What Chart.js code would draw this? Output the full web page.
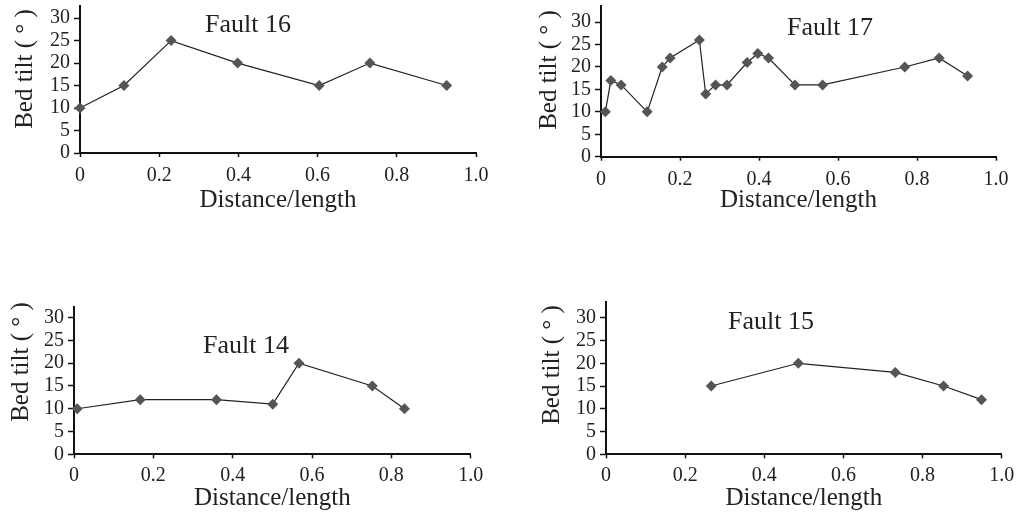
<!DOCTYPE html>
<html>
<head>
<meta charset="utf-8">
<script src="https://cdn.jsdelivr.net/npm/chart.js@4/dist/chart.umd.min.js"></script>
<style>
  body { margin: 0; background: #fff; }
  #wrap { position: relative; width: 1016px; height: 516px; }
  canvas { position: absolute; }
</style>
</head>
<body>
<div id="wrap">
  <canvas id="c16" width="508" height="258" style="left:0;top:0"></canvas>
  <canvas id="c17" width="508" height="258" style="left:508px;top:0"></canvas>
  <canvas id="c14" width="508" height="258" style="left:0;top:258px"></canvas>
  <canvas id="c15" width="508" height="258" style="left:508px;top:258px"></canvas>
</div>
<script>
// 目盛りのラベル
const xTickLabels = ["0", "0.2", "0.4", "0.6", "0.8", "1.0"];
const yTickValues = [0, 5, 10, 15, 20, 25, 30];

// 各断層のデータ (distance/length, bed tilt)
const fault16X = [0, 0.111, 0.23, 0.398, 0.604, 0.732, 0.926];
const fault16Y = [10, 15, 25, 20, 15, 20, 15];
const fault17X = [0.011, 0.025, 0.051, 0.117, 0.155, 0.175, 0.249, 0.265, 0.29, 0.319, 0.37, 0.397, 0.424, 0.491, 0.561, 0.769, 0.856, 0.928];
const fault17Y = [10, 17, 16, 10, 20, 22, 26, 14, 16, 16, 21, 23, 22, 16, 16, 20, 22, 18];
const fault14X = [0.008, 0.167, 0.359, 0.501, 0.567, 0.752, 0.833];
const fault14Y = [10, 12, 12, 11, 20, 15, 10];
const fault15X = [0.266, 0.486, 0.731, 0.853, 0.949];
const fault15Y = [15, 20, 18, 15, 12];

Chart.defaults.font.family = "'Liberation Serif', 'Times New Roman', serif";
Chart.defaults.color = "#222";

const FONT = "'Liberation Serif', 'Times New Roman', serif";

// 軸タイトルと断層名を描くプラグイン
const textPlugin = {
  id: "textMarks",
  afterDraw(chart, args, opts) {
    const ctx = chart.ctx;
    (opts.items || []).forEach(t => {
      ctx.save();
      ctx.font = t.size + "px " + FONT;
      ctx.fillStyle = "#222";
      ctx.textAlign = "center";
      ctx.textBaseline = "middle";
      ctx.translate(t.x, t.y);
      if (t.rot) ctx.rotate(t.rot);
      ctx.fillText(t.text, 0, 0);
      ctx.restore();
    });
  }
};

function makeChart(id, xs, ys, name, lay) {
  const points = xs.map((x, i) => ({ x: x, y: ys[i] }));
  return new Chart(document.getElementById(id).getContext("2d"), {
    type: "line",
    data: {
      datasets: [{
        data: points,
        borderColor: "#222",
        borderWidth: 1.2,
        tension: 0,
        pointStyle: "rectRot",
        pointRadius: 5.5,
        pointBackgroundColor: "#555",
        pointBorderColor: "#555",
        pointBorderWidth: 0,
        clip: false
      }]
    },
    options: {
      responsive: false,
      animation: false,
      events: [],
      layout: { padding: { left: 0, top: lay.padTop, right: lay.padRight, bottom: 0 } },
      plugins: {
        legend: { display: false },
        tooltip: { enabled: false },
        textMarks: {
          items: [
            { text: "Bed tilt ( \u00b0 )", x: lay.yTitle[0], y: lay.yTitle[1], size: 25, rot: -Math.PI / 2 },
            { text: name, x: lay.name[0], y: lay.name[1], size: 26 }
          ]
        }
      },
      scales: {
        x: {
          type: "linear",
          min: 0,
          max: 1,
          afterBuildTicks: s => { s.ticks = xTickLabels.map(l => ({ value: parseFloat(l) })); },
          afterFit: s => { s.height = lay.xH; s.paddingLeft = 0; s.paddingRight = 0; },
          ticks: {
            font: { size: 20 },
            padding: lay.xPad,
            maxRotation: 0,
            autoSkip: false,
            callback: (v, i) => xTickLabels[i]
          },
          grid: { drawOnChartArea: false, tickLength: 4, tickColor: "#111", tickWidth: 1.5 },
          border: { display: true, color: "#111", width: 2 },
          title: {
            display: true,
            text: "Distance/length",
            font: { size: 25 },
            padding: { top: 0, bottom: lay.xTitlePad }
          }
        },
        y: {
          type: "linear",
          min: 0,
          max: lay.yMax,
          afterBuildTicks: s => { s.ticks = yTickValues.map(v => ({ value: v })); },
          afterFit: s => { s.width = lay.yW; s.paddingTop = 0; s.paddingBottom = 0; },
          ticks: { font: { size: 20 }, padding: 4, autoSkip: false },
          grid: { drawOnChartArea: false, tickLength: 6, tickColor: "#111", tickWidth: 1.5 },
          border: { display: true, color: "#111", width: 2 }
        }
      }
    },
    plugins: [textPlugin]
  });
}

window.addEventListener("load", function() {
  makeChart("c16", fault16X, fault16Y, "Fault 16",
    { yW: 80, padTop: 4, padRight: 32, xH: 105, yMax: 32.8, xPad: 7, xTitlePad: 43, yTitle: [25, 69], name: [248, 25] });
  makeChart("c17", fault17X, fault17Y, "Fault 17",
    { yW: 93, padTop: 3, padRight: 20, xH: 101.3, yMax: 33.7, xPad: 7, xTitlePad: 43, yTitle: [41.5, 70], name: [322, 28] });
  makeChart("c14", fault14X, fault14Y, "Fault 14",
    { yW: 74, padTop: 48.7, padRight: 37.3, xH: 61.7, yMax: 32.4, xPad: 5, xTitlePad: 3, yTitle: [21, 104], name: [246, 88] });
  makeChart("c15", fault15X, fault15Y, "Fault 15",
    { yW: 98, padTop: 44.3, padRight: 14.3, xH: 61.7, yMax: 33.4, xPad: 5, xTitlePad: 3, yTitle: [44, 107], name: [263, 64.5] });
}, false);
</script>
</body>
</html>
